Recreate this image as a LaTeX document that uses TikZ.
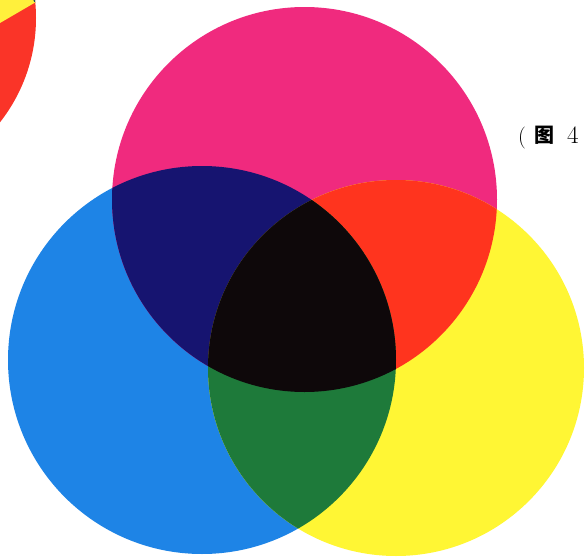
\documentclass[tikz,border=0pt]{standalone}
\usepackage{fontspec}
\newfontfamily\cjkfont{Noto Sans CJK SC}
\definecolor{cmag}{RGB}{240,42,126}
\definecolor{ccyan}{RGB}{30,132,230}
\definecolor{cyel}{RGB}{255,246,52}
\definecolor{cdblue}{RGB}{22,20,112}
\definecolor{cred}{RGB}{255,52,30}
\definecolor{cgreen}{RGB}{30,122,58}
\definecolor{cblack}{RGB}{14,8,10}
\definecolor{sred}{RGB}{250,52,40}
\definecolor{syel}{RGB}{255,240,60}
\definecolor{steal}{RGB}{30,80,90}
\begin{document}
\begin{tikzpicture}[x=1pt,y=-1pt,
  lbl/.style={inner sep=0pt,outer sep=0pt,anchor=base west,text=black}]
\useasboundingbox (0,0) rectangle (587,557);
\fill[white] (0,0) rectangle (587,557);
\clip (0,0) rectangle (587,557);
% fragment of another circle, top left
\begin{scope}
  \clip (-133,18) circle (169);
  \fill[sred] (-140,-160) rectangle (40,200);
  \fill[syel] (-140,-160) -- (60,-160) -- (60,-12) -- (0,23) -- (-140,105) -- cycle;
  \fill[steal] (37,-1) circle (4);
\end{scope}
% three circles
\def\Mag{(304.5,199.5) circle (192.5)}
\def\Cya{(202,360) circle (194)}
\def\Yel{(396,368) circle (188)}
\fill[ccyan] \Cya;
\fill[cmag] \Mag;
\fill[cyel] \Yel;
\begin{scope}\clip \Mag; \fill[cdblue] \Cya; \end{scope}
\begin{scope}\clip \Mag; \fill[cred] \Yel; \end{scope}
\begin{scope}\clip \Cya; \fill[cgreen] \Yel; \end{scope}
\begin{scope}\clip \Mag; \clip \Cya; \fill[cblack] \Yel; \end{scope}
% caption fragment
\node[lbl,font=\fontsize{22}{22}\selectfont] (paren) at (518,143) {(};
\node[lbl,font=\cjkfont\bfseries\fontsize{20}{20}\selectfont] (tu) at (534,142) {图};
\node[lbl,font=\fontsize{25}{25}\selectfont] (four) at (567,143) {4};
\end{tikzpicture}
\end{document}
